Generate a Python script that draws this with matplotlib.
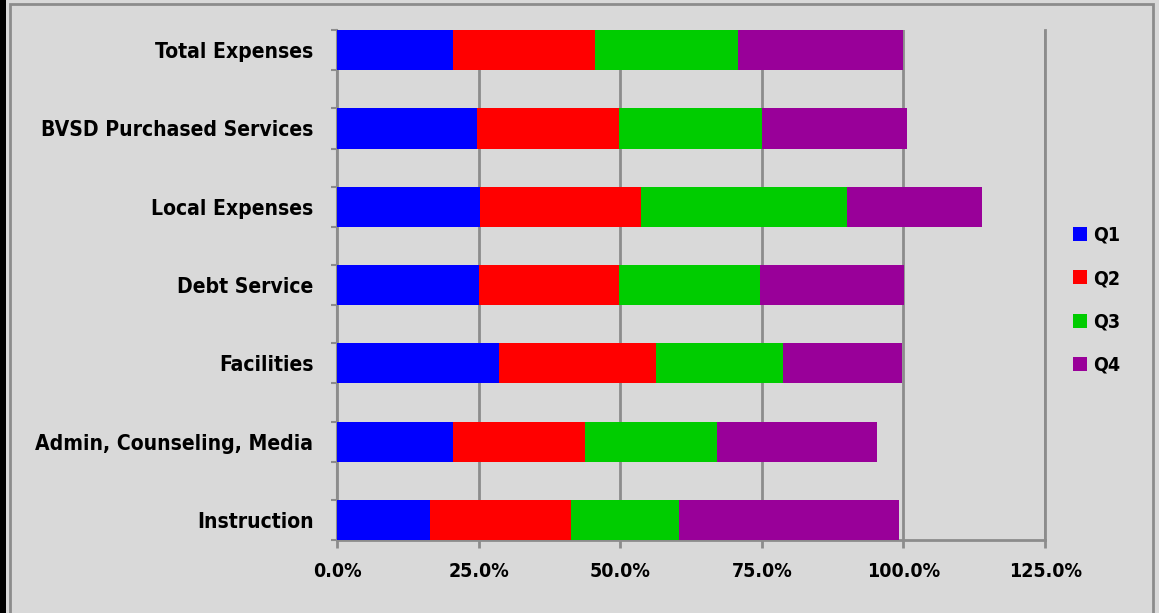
import matplotlib.pyplot as plt
import matplotlib.font_manager as fm
from matplotlib.patches import Rectangle
from matplotlib.ticker import FuncFormatter, FixedLocator
import numpy as np

categories = ["Total Expenses", "BVSD Purchased Services", "Local Expenses",
              "Debt Service", "Facilities", "Admin, Counseling, Media", "Instruction"]
q1 = [20.5, 24.7, 25.2, 25.1, 28.6, 20.5, 16.4]
q2 = [25.0, 25.1, 28.5, 24.7, 27.7, 23.3, 24.9]
q3 = [25.3, 25.2, 36.3, 24.9, 22.4, 23.3, 19.1]
q4 = [29.2, 25.6, 23.9, 25.4, 21.1, 28.2, 38.8]
quarters = ["Q1", "Q2", "Q3", "Q4"]
colors = ["#0000ff", "#ff0000", "#00cc00", "#990099"]


# look for a narrow / condensed bold face, else plain Liberation Sans bold
def pick_font():
    keys = ("narrow", "condensed", "cond")
    found = []
    for f in fm.fontManager.ttflist:
        tag = (f.name + " " + f.fname).lower()
        if any(k in tag for k in keys):
            w = f.weight if isinstance(f.weight, int) else (700 if "bold" in str(f.weight) else 400)
            if "italic" in tag or "oblique" in tag or f.style != "normal":
                continue
            found.append((abs(w - 700), f))
    if found:
        found.sort(key=lambda t: t[0])
        return found[0][1].fname, None
    return None, "Liberation Sans"


fname, family = pick_font()


def font(size):
    if fname:
        return fm.FontProperties(fname=fname, size=size)
    return fm.FontProperties(family=family, weight="bold", size=size)


bg = "#d9d9d9"
grid_c = "#8c8c8c"

fig = plt.figure(figsize=(11.59, 6.13), dpi=100, facecolor=bg)

# size the font so the longest label is about 273 px wide, as in the reference
probe = fig.text(0, 0, categories[1], fontproperties=font(15))
fig.canvas.draw()
w = probe.get_window_extent(fig.canvas.get_renderer()).width
probe.remove()
size = 15 * 273 / w

ax = fig.add_axes([0.2908, 0.1191, 0.6109, 0.8319])
ax.set_facecolor(bg)

fig.patches.append(Rectangle((0, 0), 0.0055, 1, transform=fig.transFigure,
                             facecolor="black", edgecolor="none"))
fig.patches.append(Rectangle((0.0083, -0.01), 0.9866, 1.003, transform=fig.transFigure,
                             facecolor="none", edgecolor=grid_c, linewidth=2))

y = np.arange(len(categories))
h = 0.513
left = np.zeros(len(categories))
for vals, lab, col in zip([q1, q2, q3, q4], quarters, colors):
    ax.barh(y, vals, left=left, height=h, color=col, label=lab, edgecolor="none", zorder=3)
    left += np.array(vals)

ax.set_xlim(0, 125)
ax.set_ylim(len(categories) - 1 + h / 2, -h / 2)
ax.set_xticks([0, 25, 50, 75, 100, 125])
ax.xaxis.set_major_formatter(FuncFormatter(lambda v, p: f"{v:.1f}%"))
ax.grid(axis="x", color=grid_c, linewidth=2, zorder=0)

ax.set_yticks(y)
ax.set_yticklabels(categories)
ax.tick_params(axis="y", length=0, pad=17)
edges = np.concatenate([y - h / 2, y + h / 2])
ax.yaxis.set_minor_locator(FixedLocator(edges))
ax.tick_params(axis="y", which="minor", length=4.5, width=1.5, color=grid_c)
ax.tick_params(axis="x", length=6, width=2, color=grid_c, pad=10)

for t in ax.get_yticklabels():
    t.set_fontproperties(font(size))
for t in ax.get_xticklabels():
    t.set_fontproperties(font(size * 0.93))

ax.spines["top"].set_visible(False)
ax.spines["right"].set_color(grid_c)
ax.spines["right"].set_linewidth(2)
ax.spines["left"].set_color(grid_c)
ax.spines["left"].set_linewidth(1.5)
ax.spines["bottom"].set_color(grid_c)
ax.spines["bottom"].set_linewidth(2)

ax.legend(loc="center left", bbox_to_anchor=(1.028, 0.47), frameon=False,
          prop=font(size * 0.93), handlelength=0.75, handleheight=0.75,
          handletextpad=0.3, labelspacing=1.25, borderaxespad=0)

plt.savefig("out.png", dpi=100, facecolor=bg)
